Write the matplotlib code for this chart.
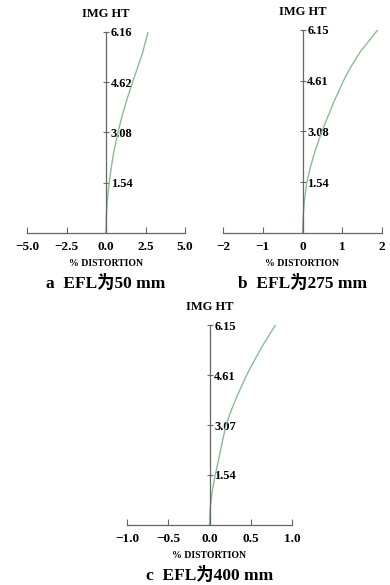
import numpy as np
import matplotlib
matplotlib.use('Agg')
import matplotlib.pyplot as plt

SERIF = ['Liberation Serif', 'Noto Sans CJK SC', 'DejaVu Serif']
plt.rcParams['font.family'] = SERIF

# data
h_a = [0, 0.5, 1.0, 1.54, 2.0, 2.5, 3.08, 3.5, 4.0, 4.62, 5.0, 5.5, 6.16]
d_a = [0, 0.02, 0.08, 0.2, 0.33, 0.5, 0.76, 0.97, 1.26, 1.68, 1.95, 2.3, 2.66]
ticks_a = [1.54, 3.08, 4.62, 6.16]
xt_a = [-5.0, -2.5, 0.0, 2.5, 5.0]
xl_a = ['\u22125.0', '\u22122.5', '0.0', '2.5', '5.0']

h_b = [0, 0.5, 1.0, 1.54, 2.0, 2.5, 3.08, 3.5, 4.0, 4.61, 5.0, 5.5, 6.15]
d_b = [0, 0.015, 0.05, 0.11, 0.2, 0.32, 0.49, 0.63, 0.8, 1.03, 1.2, 1.46, 1.89]
ticks_b = [1.54, 3.08, 4.61, 6.15]
xt_b = [-2, -1, 0, 1, 2]
xl_b = ['\u22122', '\u22121', '0', '1', '2']

h_c = [0, 0.5, 1.0, 1.54, 2.0, 2.5, 3.07, 3.5, 4.0, 4.61, 5.0, 5.5, 6.15]
d_c = [0, 0.008, 0.03, 0.07, 0.11, 0.15, 0.2, 0.26, 0.34, 0.45, 0.53, 0.64, 0.80]
ticks_c = [1.54, 3.07, 4.61, 6.15]
xt_c = [-1.0, -0.5, 0.0, 0.5, 1.0]
xl_c = ['\u22121.0', '\u22120.5', '0.0', '0.5', '1.0']

captions = ['a  EFL为50 mm', 'b  EFL为275 mm', 'c  EFL为400 mm']

W, H = 390, 585
fig = plt.figure(figsize=(W / 100, H / 100), dpi=100)

curve_color = '#86bf92'
axis_color = '#666666'


def panel(rect, h, d, yticks, xt, xl, caption):
    l, t, r, b = rect  # pixel box of the axes
    ax = fig.add_axes([l / W, 1 - b / H, (r - l) / W, (b - t) / H])
    ax.plot(d, h, color=curve_color, lw=1.0)
    ax.set_xlim(xt[0], xt[-1])
    ax.set_ylim(0, yticks[-1])
    ax.patch.set_alpha(0)
    for s in ['top', 'left']:
        ax.spines[s].set_visible(False)
    ax.spines['right'].set_position(('data', 0))
    ax.spines['right'].set_color(axis_color)
    ax.spines['bottom'].set_color(axis_color)
    ax.spines['right'].set_linewidth(0.9)
    ax.spines['bottom'].set_linewidth(0.9)
    ax.yaxis.tick_right()
    ax.set_yticks(yticks)
    ax.set_yticklabels(['%.2f' % v for v in yticks])
    ax.tick_params(axis='y', direction='inout', length=5, width=0.8,
                   color=axis_color, pad=1, labelsize=9)
    ax.set_xticks(xt)
    ax.set_xticklabels(xl)
    ax.tick_params(axis='x', direction='in', length=4, width=0.8,
                   color=axis_color, pad=6, labelsize=9.5)
    for lab in ax.get_xticklabels() + ax.get_yticklabels():
        lab.set_fontweight('bold')
    x0 = (l + (r - l) * (0 - xt[0]) / (xt[-1] - xt[0])) / W
    fig.text(x0, 1 - (t - 18) / H, 'IMG HT', ha='center', va='center',
             fontsize=9, fontweight='bold')
    fig.text(x0, 1 - (b + 31) / H, '% DISTORTION', ha='center', va='center',
             fontsize=7, fontweight='bold')
    fig.text(x0, 1 - (b + 50) / H, caption, ha='center', va='center',
             fontsize=12.5, fontweight='bold')
    return ax


panel((27, 32, 185, 233), h_a, d_a, ticks_a, xt_a, xl_a, captions[0])
panel((223, 30, 382, 233), h_b, d_b, ticks_b, xt_b, xl_b, captions[1])
panel((127, 325, 292, 525), h_c, d_c, ticks_c, xt_c, xl_c, captions[2])

fig.savefig('out.png', dpi=100)
